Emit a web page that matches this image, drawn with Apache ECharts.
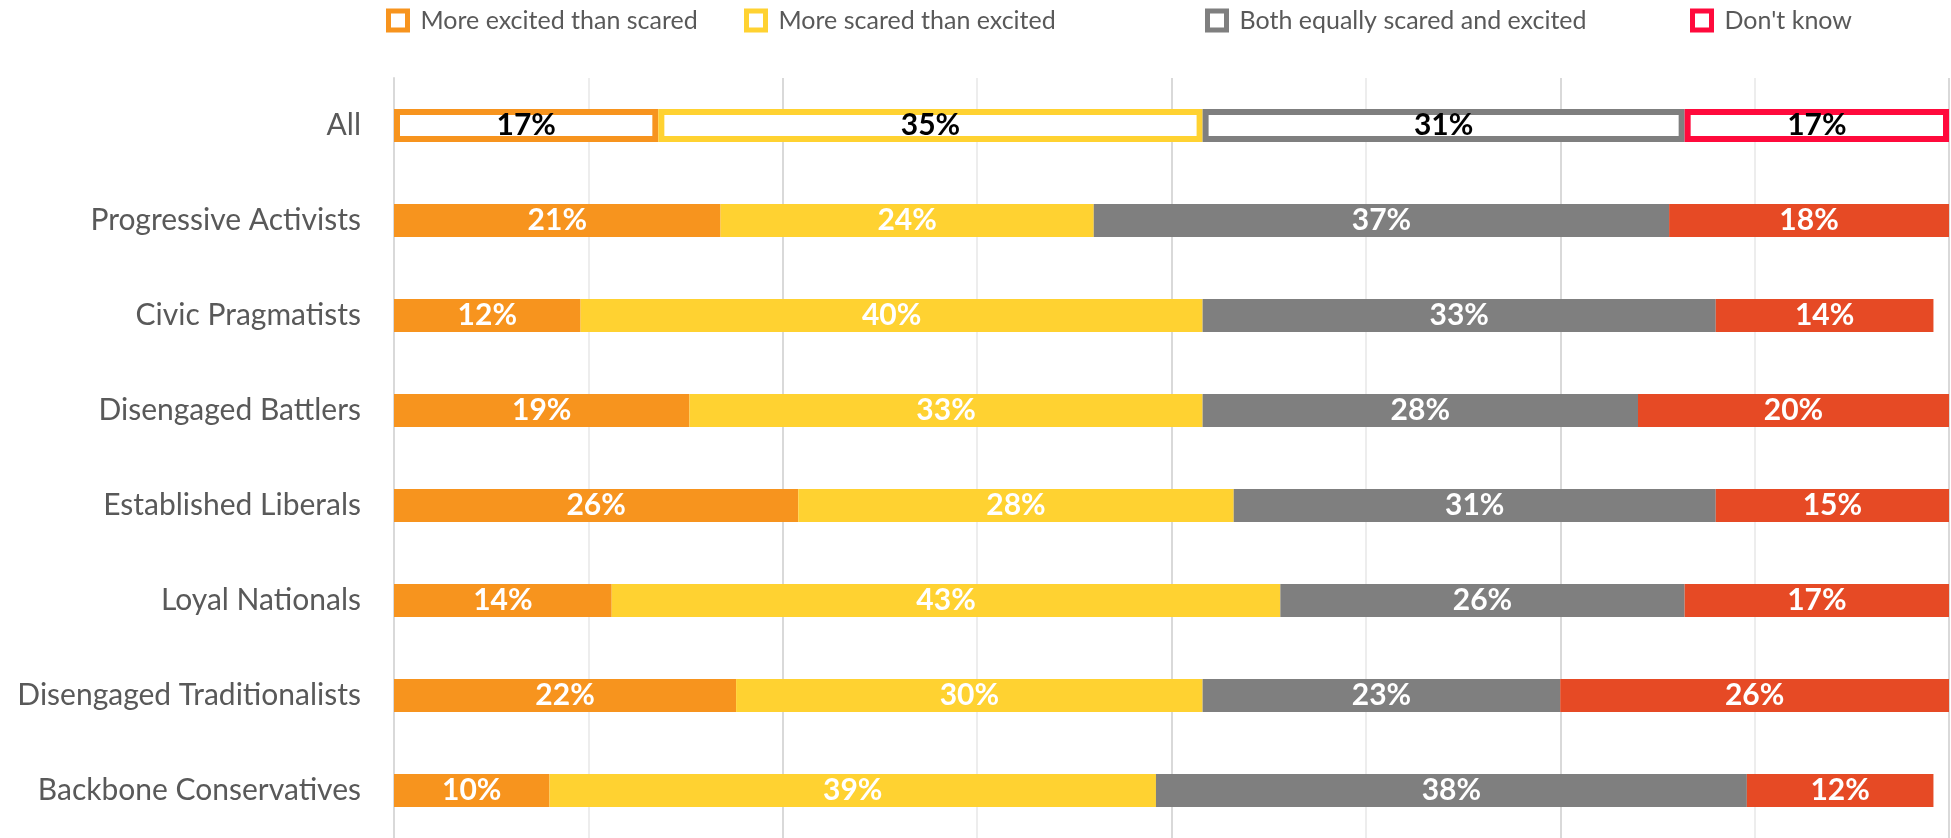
<!DOCTYPE html>
<html>
<head>
<meta charset="utf-8">
<title>Excited or scared</title>
<script src="https://cdn.jsdelivr.net/npm/echarts/dist/echarts.min.js"></script>
<style>
  html, body { margin: 0; padding: 0; background: #fff; }
  #chart { width: 1951px; height: 838px; }
</style>
</head>
<body>
<div id="chart"></div>
<script>
// categories, top to bottom
const categories = [
  'All',
  'Progressive Activists',
  'Civic Pragmatists',
  'Disengaged Battlers',
  'Established Liberals',
  'Loyal Nationals',
  'Disengaged Traditionalists',
  'Backbone Conservatives'
]

const seriesNames = [
  'More excited than scared',
  'More scared than excited',
  'Both equally scared and excited',
  "Don't know"
]

// values in %
const excited = [17, 21, 12, 19, 26, 14, 22, 10]
const scared = [35, 24, 40, 33, 28, 43, 30, 39]
const both = [31, 37, 33, 28, 31, 26, 23, 38]
const dontKnow = [17, 18, 14, 20, 15, 17, 26, 12]

const values = [excited, scared, both, dontKnow]

// fill colour for the segments / border colour for the "All" row
const fillColors = ['#F7941E', '#FFD231', '#7F7F7F', '#E64A25']
const outlineColors = ['#F7941E', '#FFD231', '#7F7F7F', '#FF0A3C']

// where each legend entry starts (icon left edge)
const legendLefts = [386, 744, 1205, 1690]

const FONT = 'Lato, "Noto Sans", sans-serif'

const chart = echarts.init(document.getElementById('chart'))

const series = values.map((vals, i) => {
  return {
    name: seriesNames[i],
    type: 'bar',
    stack: 'total',
    barWidth: 33,
    itemStyle: { color: fillColors[i] },
    label: {
      show: true,
      position: 'inside',
      formatter: '{c}%',
      color: '#fff',
      fontFamily: FONT,
      fontWeight: 'bold',
      fontSize: 30
    },
    data: vals.map((v, j) => {
      if (j !== 0) return v
      // the "All" row is drawn as outlined boxes
      return {
        value: v,
        itemStyle: { color: '#fff', borderColor: outlineColors[i], borderWidth: 6 },
        label: { color: '#000' }
      }
    })
  }
})

const legends = seriesNames.map((name, i) => {
  return {
    left: legendLefts[i],
    top: 8,
    padding: 0,
    itemWidth: 19,
    itemHeight: 19,
    selectedMode: false,
    textStyle: {
      color: '#595959',
      fontFamily: FONT,
      fontSize: 25,
      padding: [0, 0, 0, 8]
    },
    data: [
      {
        name: name,
        icon: 'rect',
        itemStyle: { color: '#fff', borderColor: outlineColors[i], borderWidth: 5 }
      }
    ]
  }
})

chart.setOption({
  animation: false,
  legend: legends,
  grid: {
    left: 394,
    right: 2,
    top: 78,
    bottom: 0,
    containLabel: false
  },
  xAxis: {
    type: 'value',
    min: 0,
    max: 100,
    interval: 25,
    axisLabel: { show: false },
    axisLine: { show: false },
    axisTick: { show: false },
    splitLine: { lineStyle: { color: '#d9d9d9', width: 2 } },
    minorTick: { show: false, splitNumber: 2 },
    minorSplitLine: { show: true, lineStyle: { color: '#ededed', width: 2 } }
  },
  yAxis: {
    type: 'category',
    inverse: true,
    data: categories,
    axisLine: { lineStyle: { color: '#d9d9d9', width: 2 } },
    axisTick: { length: 5, lineStyle: { color: '#d9d9d9', width: 2 } },
    axisLabel: {
      margin: 33,
      color: '#595959',
      fontFamily: FONT,
      fontSize: 30
    }
  },
  series: series
})
</script>
</body>
</html>
